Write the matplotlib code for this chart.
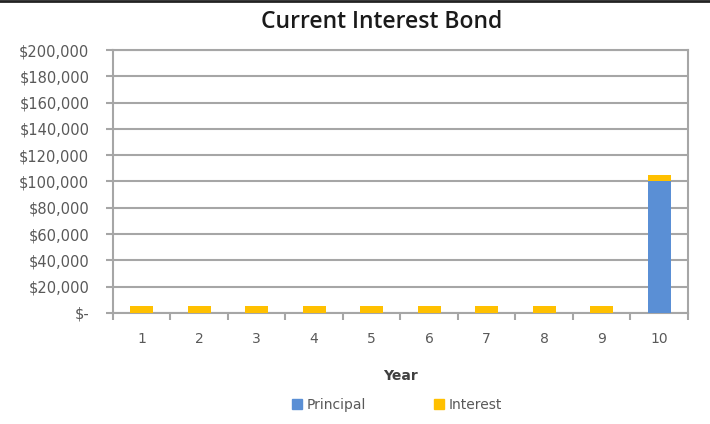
import numpy as np
import matplotlib
matplotlib.use('Agg')
import matplotlib.pyplot as plt
from matplotlib.lines import Line2D

years = ['1', '2', '3', '4', '5', '6', '7', '8', '9', '10']
principal = [0, 0, 0, 0, 0, 0, 0, 0, 0, 100000]
interest = [5000, 5000, 5000, 5000, 5000, 5000, 5000, 5000, 5000, 5000]
yticks = [0, 20000, 40000, 60000, 80000, 100000, 120000, 140000, 160000, 180000, 200000]
ylabels = ['$-'] + ['${:,}'.format(v) for v in yticks[1:]]

plt.rcParams['font.family'] = ['DejaVu Sans']

blue = '#5A8FD5'
gold = '#FFC000'
grid = '#A6A6A6'
txt = '#595959'

fig = plt.figure(figsize=(7.1, 4.24), dpi=100)
ax = fig.add_axes([0.159, 0.262, 0.810, 0.620])

x = np.arange(len(years))
ax.bar(x, principal, width=0.4, color=blue, label='Principal', zorder=3)
ax.bar(x, interest, width=0.4, bottom=principal, color=gold, label='Interest', zorder=3)

ax.set_xlim(-0.5, len(years) - 0.5)
ax.set_ylim(0, 200000)
ax.set_yticks(yticks)
ax.set_yticklabels(ylabels)
ax.yaxis.grid(True, color=grid, linewidth=1.5, zorder=0)

ax.set_xticks(x)
ax.set_xticklabels(years)
ax.set_xticks(np.arange(-0.5, len(years)), minor=True)
ax.tick_params(axis='x', which='major', length=0, pad=14, labelsize=10, labelcolor=txt)
ax.tick_params(axis='x', which='minor', length=5, width=1.5, color=grid)
ax.tick_params(axis='y', length=5, width=1.5, color=grid, pad=12, labelsize=10.5, labelcolor=txt)

for s in ax.spines.values():
    s.set_color(grid)
    s.set_linewidth(1.5)

ax.set_xlabel('Year', fontsize=10, fontweight='bold', color='#404040', labelpad=16)
fig.text(0.538, 0.948, 'Current Interest Bond', ha='center', va='center',
         fontsize=16.5, fontweight='semibold', family=['Open Sans', 'DejaVu Sans'], color='#1a1a1a')

handles = [Line2D([], [], marker='s', linestyle='', markersize=7, color=blue),
           Line2D([], [], marker='s', linestyle='', markersize=7, color=gold)]
fig.legend(handles, ['Principal', 'Interest'], loc='center', bbox_to_anchor=(0.553, 0.045),
           ncol=2, frameon=False, fontsize=10, labelcolor=txt, handletextpad=-0.3,
           columnspacing=4.3)

fig.add_artist(Line2D([0, 1], [0.997, 0.997], transform=fig.transFigure, color='#222222', linewidth=2))

fig.savefig('out.png', dpi=100)
